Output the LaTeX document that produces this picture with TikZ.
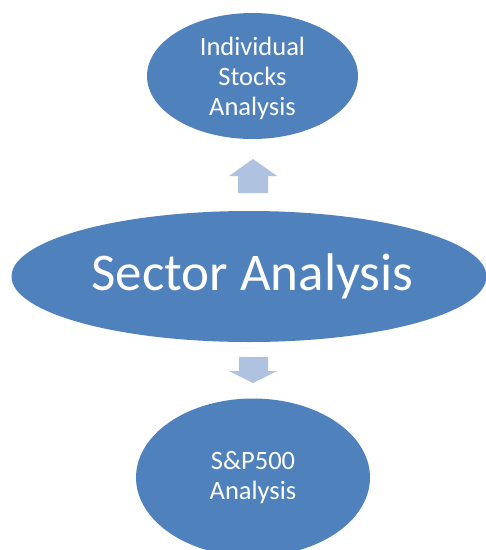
\documentclass[tikz,border=0pt]{standalone}
\usepackage{fontspec}
\setmainfont{Carlito}
\usetikzlibrary{shapes.geometric}
\definecolor{ovalblue}{HTML}{4F81BD}
\definecolor{arrowblue}{HTML}{AFC2DF}
\begin{document}
\begin{tikzpicture}[x=1pt,y=-1pt,
  oval/.style={ellipse, fill=ovalblue, draw=none, inner sep=0pt},
  ovaltext/.style={text=white, align=center, inner sep=0pt},
  blockarrow/.style={fill=arrowblue, draw=none}]
  \useasboundingbox (0,0) rectangle (486,550);
  \clip (0,0) rectangle (486,550);

  % the three ovals and their labels
  \node[oval, minimum width=211pt, minimum height=126pt] (stocks) at (252.5,76) {};
  \node[ovaltext, font=\fontsize{26.5}{30}\selectfont]
        at ([yshift=-2.5pt]stocks.center) {Individual\\Stocks\\Analysis};
  \node[oval, minimum width=475pt, minimum height=131pt] (sector) at (249,276.5) {};
  \node[ovaltext, font=\fontsize{53}{60}\selectfont]
        at ([xshift=3.5pt]sector.center) {Sector Analysis};
  \node[oval, minimum width=234pt, minimum height=158pt] (sp) at (253,477.5) {};
  \node[ovaltext, font=\fontsize{26.5}{30}\selectfont]
        at (sp.center) {S\&P500\\Analysis};

  % block arrow pointing up to the top oval
  \coordinate (uptip) at (253,159);
  \fill[blockarrow] (uptip) -- ++(24,17) -- ++(-9,0) -- ++(0,17) -- ++(-30,0)
    -- ++(0,-17) -- ++(-9,0) -- cycle;

  % block arrow pointing down to the bottom oval
  \coordinate (downtip) at (253,383);
  \fill[blockarrow] (downtip) -- ++(24,-12) -- ++(-9,0) -- ++(0,-14) -- ++(-29,0)
    -- ++(0,14) -- ++(-10,0) -- cycle;
\end{tikzpicture}
\end{document}
